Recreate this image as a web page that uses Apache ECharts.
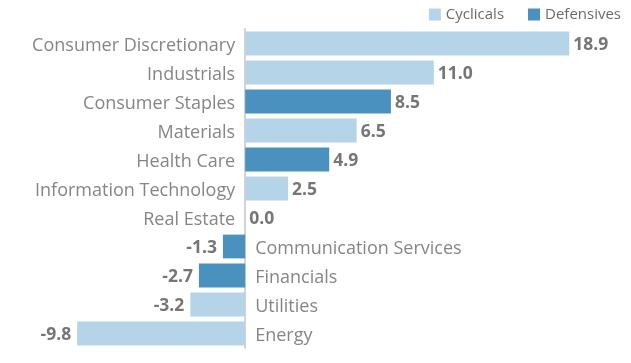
<!DOCTYPE html>
<html><head><meta charset="utf-8">
<script src="https://cdn.jsdelivr.net/npm/echarts@6/dist/echarts.min.js"></script>
<style>html,body{margin:0;padding:0;background:#fff}#c{width:631px;height:363px}</style>
</head><body><div id="c"></div>
<script>
const categories = ["Consumer Discretionary","Industrials","Consumer Staples","Materials","Health Care","Information Technology","Real Estate","Communication Services","Financials","Utilities","Energy"];
const values = [18.9, 11.0, 8.5, 6.5, 4.9, 2.5, 0.0, -1.3, -2.7, -3.2, -9.8];
const groups = ["Cyclicals","Cyclicals","Defensives","Cyclicals","Defensives","Cyclicals","Cyclicals","Defensives","Defensives","Cyclicals","Cyclicals"];
const seriesNames = ["Cyclicals","Defensives"];
const colors = {"Cyclicals":"#b6d4e7","Defensives":"#4a91c0"};

const FONT = "Open Sans";
const chart = echarts.init(document.getElementById('c'), null, {renderer:'canvas'});
const barSeries = seriesNames.map(name => ({
  name, type:'bar', stack:'s', barCategoryGap:'18%',
  itemStyle:{color:colors[name]},
  data: values.map((v,i) => groups[i]===name ? {
    value:v,
    label:{show:true, position: v<0 ? 'left':'right', distance: v<0 ? 6 : 4, offset:[0,1.5],
      formatter: p => p.value.toFixed(1), color:'#767676', fontWeight:'bold', fontSize:17.5, fontFamily:FONT}
  } : '-')
}));
const nameSeries = {
  name:'names', type:'scatter', symbolSize:0, silent:true, z:5,
  data: values.map((v,i) => ({
    value:[0,i],
    label:{show:true, position: v<0 ? 'right':'left', distance: 10, offset:[0,2],
      formatter: categories[i], color:'#666666', fontSize:18, fontFamily:FONT}
  }))
};
chart.setOption({
  animation:false,
  legend:{data:seriesNames, right:5, top:2, itemWidth:12, itemHeight:12, itemGap:24, icon:'rect',
    textStyle:{color:'#6b6b6b', fontSize:15, fontFamily:FONT}},
  grid:{left:0, right:0, top:29, height:319, containLabel:false},
  xAxis:{type:'value', min:-14.3, max:22.5, show:false},
  yAxis:{type:'category', data:categories, inverse:true,
    axisLine:{show:true, onZero:true, lineStyle:{color:'#d4d4d4', width:2}},
    axisTick:{show:false}, axisLabel:{show:false}, splitLine:{show:false}},
  series:[...barSeries, nameSeries]
});
</script></body></html>
